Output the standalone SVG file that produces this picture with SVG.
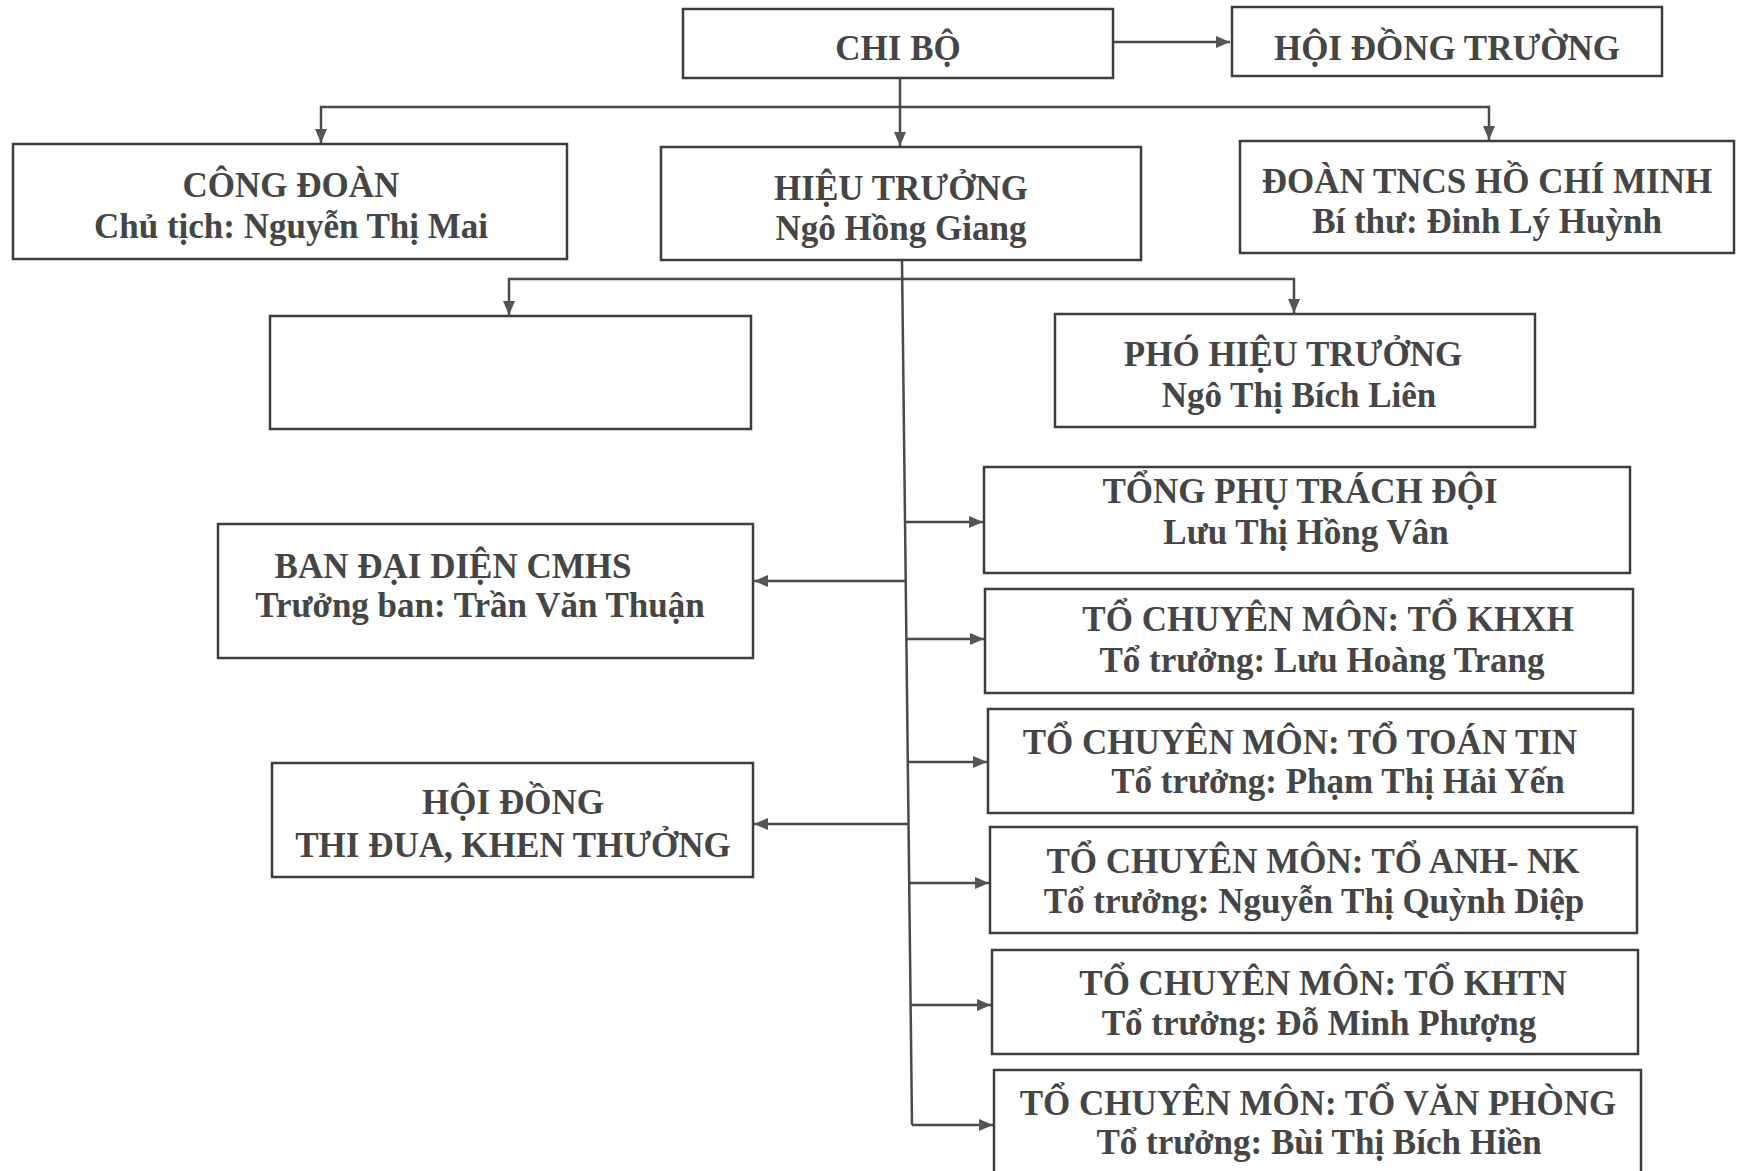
<svg xmlns="http://www.w3.org/2000/svg" width="1742" height="1171" viewBox="0 0 1742 1171">
<style>
.box{fill:#ffffff;stroke:#3d3d3d;stroke-width:2.5}
.t{font-family:"Liberation Serif","Times New Roman",serif;font-weight:bold;font-size:35px;fill:#454545;text-anchor:middle}
.c{fill:none;stroke:#4a4a4a;stroke-width:2.5}
</style>
<defs>
<marker id="arr" markerUnits="userSpaceOnUse" markerWidth="16" markerHeight="14" refX="14" refY="6" orient="auto">
<path d="M0,0 L14,6 L0,12 z" fill="#555555"/>
</marker>
</defs>
<rect width="1742" height="1171" fill="#ffffff"/>
<g id="connectors">
<path class="c" d="M1113,42 H1230" marker-end="url(#arr)"/>
<path class="c" d="M900,78 V146" marker-end="url(#arr)"/>
<path class="c" d="M900,107 H321 V143" marker-end="url(#arr)"/>
<path class="c" d="M900,107 H1489 V140" marker-end="url(#arr)"/>
<path class="c" d="M902,260 L912,1125"/>
<path class="c" d="M902,279 H509 V315" marker-end="url(#arr)"/>
<path class="c" d="M902,279 H1294 V313" marker-end="url(#arr)"/>
<path class="c" d="M905,522 H983" marker-end="url(#arr)"/>
<path class="c" d="M906,639 H984" marker-end="url(#arr)"/>
<path class="c" d="M908,762 H987" marker-end="url(#arr)"/>
<path class="c" d="M909,883 H989" marker-end="url(#arr)"/>
<path class="c" d="M910,1005 H991" marker-end="url(#arr)"/>
<path class="c" d="M912,1125 H993" marker-end="url(#arr)"/>
<path class="c" d="M905,581 H754" marker-end="url(#arr)"/>
<path class="c" d="M908,824 H754" marker-end="url(#arr)"/>
</g>
<g id="chi-bo">
<rect class="box" x="683" y="9" width="430" height="69"/>
<text class="t" x="898" y="60">CHI BỘ</text>
</g>
<g id="hoi-dong-truong">
<rect class="box" x="1232" y="7" width="430" height="69"/>
<text class="t" x="1447" y="60">HỘI ĐỒNG TRƯỜNG</text>
</g>
<g id="cong-doan">
<rect class="box" x="13" y="144" width="554" height="115"/>
<text class="t" x="291" y="197">CÔNG ĐOÀN</text>
<text class="t" x="291" y="238">Chủ tịch: Nguyễn Thị Mai</text>
</g>
<g id="hieu-truong">
<rect class="box" x="661" y="147" width="480" height="113"/>
<text class="t" x="901" y="200">HIỆU TRƯỞNG</text>
<text class="t" x="901" y="240">Ngô Hồng Giang</text>
</g>
<g id="doan-tncs">
<rect class="box" x="1240" y="141" width="494" height="112"/>
<text class="t" x="1487" y="193">ĐOÀN TNCS HỒ CHÍ MINH</text>
<text class="t" x="1487" y="233">Bí thư: Đinh Lý Huỳnh</text>
</g>
<g id="empty-box">
<rect class="box" x="270" y="316" width="481" height="113"/>
</g>
<g id="pho-hieu-truong">
<rect class="box" x="1055" y="314" width="480" height="113"/>
<text class="t" x="1293" y="366">PHÓ HIỆU TRƯỞNG</text>
<text class="t" x="1299" y="407">Ngô Thị Bích Liên</text>
</g>
<g id="tong-phu-trach">
<rect class="box" x="984" y="467" width="646" height="106"/>
<text class="t" x="1300" y="503">TỔNG PHỤ TRÁCH ĐỘI</text>
<text class="t" x="1306" y="544">Lưu Thị Hồng Vân</text>
</g>
<g id="ban-dai-dien">
<rect class="box" x="218" y="524" width="535" height="134"/>
<text class="t" x="453" y="578">BAN ĐẠI DIỆN CMHS</text>
<text class="t" x="480" y="617">Trưởng ban: Trần Văn Thuận</text>
</g>
<g id="to-khxh">
<rect class="box" x="985" y="589" width="648" height="104"/>
<text class="t" x="1328" y="631">TỔ CHUYÊN MÔN: TỔ KHXH</text>
<text class="t" x="1322" y="672">Tổ trưởng: Lưu Hoàng Trang</text>
</g>
<g id="to-toan-tin">
<rect class="box" x="988" y="709" width="645" height="104"/>
<text class="t" x="1300" y="754">TỔ CHUYÊN MÔN: TỔ TOÁN TIN</text>
<text class="t" x="1338" y="793">Tổ trưởng: Phạm Thị Hải Yến</text>
</g>
<g id="hoi-dong-thi-dua">
<rect class="box" x="272" y="763" width="481" height="114"/>
<text class="t" x="513" y="814">HỘI ĐỒNG</text>
<text class="t" x="513" y="857">THI ĐUA, KHEN THƯỞNG</text>
</g>
<g id="to-anh-nk">
<rect class="box" x="990" y="827" width="647" height="106"/>
<text class="t" x="1313" y="873">TỔ CHUYÊN MÔN: TỔ ANH- NK</text>
<text class="t" x="1314" y="913">Tổ trưởng: Nguyễn Thị Quỳnh Diệp</text>
</g>
<g id="to-khtn">
<rect class="box" x="992" y="950" width="646" height="104"/>
<text class="t" x="1323" y="995">TỔ CHUYÊN MÔN: TỔ KHTN</text>
<text class="t" x="1319" y="1035">Tổ trưởng: Đỗ Minh Phượng</text>
</g>
<g id="to-van-phong">
<rect class="box" x="994" y="1070" width="647" height="120"/>
<text class="t" x="1318" y="1115">TỔ CHUYÊN MÔN: TỔ VĂN PHÒNG</text>
<text class="t" x="1319" y="1154">Tổ trưởng: Bùi Thị Bích Hiền</text>
</g>
</svg>
